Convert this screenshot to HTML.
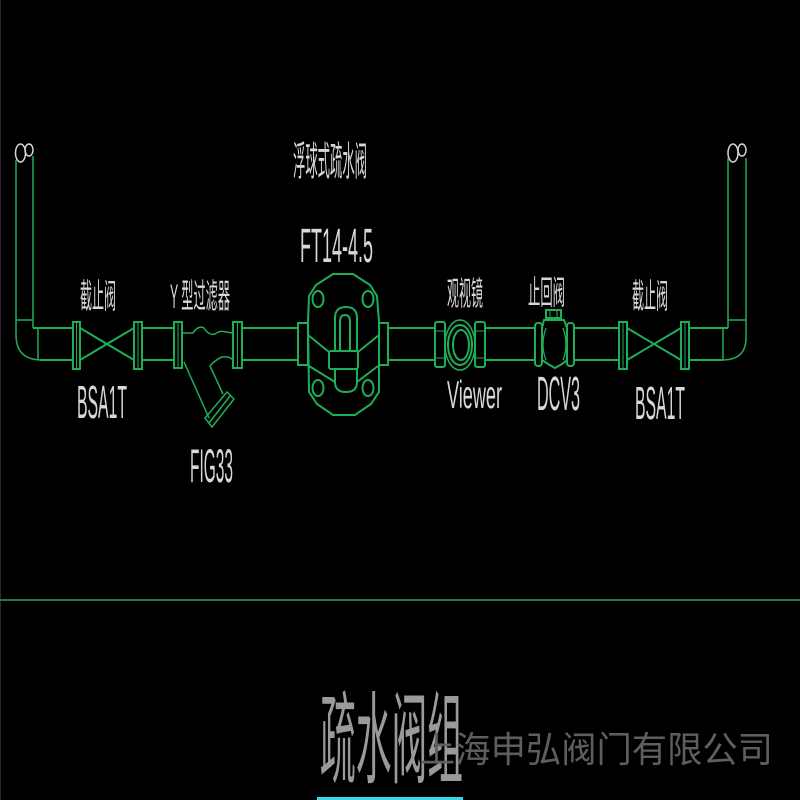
<!DOCTYPE html>
<html><head><meta charset="utf-8"><style>
html,body{margin:0;padding:0;background:#000;}
svg{display:block;}
.p{stroke:#1fae58;stroke-width:2;fill:none;}
.d{stroke:#1fae58;stroke-width:1.5;fill:none;}
.t{fill:#d8d8d8;font-family:"Liberation Sans","Noto Sans CJK SC",sans-serif;}
.c{fill:#d8d8d8;font-family:"Liberation Sans","Noto Sans CJK SC",sans-serif;}
</style></head><body>
<svg width="800" height="800" viewBox="0 0 800 800" xmlns="http://www.w3.org/2000/svg">
<rect width="800" height="800" fill="#000"/>
<line x1="0.5" y1="0" x2="0.5" y2="800" stroke="#2a2a2a" stroke-width="1"/>

<!-- left loop & vertical pipe -->
<ellipse cx="20.5" cy="153" rx="5" ry="9" fill="none" stroke="#d8d8d8" stroke-width="1.5"/>
<ellipse cx="29" cy="150" rx="4" ry="6" fill="none" stroke="#d8d8d8" stroke-width="1.5"/>
<path class="d" d="M16,160 L16,335 Q16,360 42,360"/>
<path class="d" d="M33,156 L33,328"/>
<line class="d" x1="16" y1="320" x2="33" y2="320"/>
<line class="d" x1="38" y1="328" x2="38" y2="360"/>

<!-- right loop & vertical pipe -->
<ellipse cx="733" cy="153" rx="5" ry="9" fill="none" stroke="#d8d8d8" stroke-width="1.5"/>
<ellipse cx="742" cy="150" rx="4" ry="6" fill="none" stroke="#d8d8d8" stroke-width="1.5"/>
<path class="d" d="M746,158 L746,338 Q746,360 722,360"/>
<path class="d" d="M728,158 L728,328"/>
<line class="d" x1="728" y1="320" x2="746" y2="320"/>
<line class="d" x1="723" y1="328" x2="723" y2="360"/>

<!-- pipe segments -->
<g class="p">
<line x1="33" y1="328" x2="73" y2="328"/><line x1="40" y1="360" x2="73" y2="360"/>
<line x1="142" y1="328" x2="174" y2="328"/><line x1="142" y1="360" x2="174" y2="360"/>
<line x1="242" y1="328" x2="298" y2="328"/><line x1="242" y1="360" x2="298" y2="360"/>
<line x1="387" y1="328" x2="435" y2="328"/><line x1="387" y1="360" x2="435" y2="360"/>
<line x1="485" y1="328" x2="535" y2="328"/><line x1="485" y1="360" x2="535" y2="360"/>
<line x1="574" y1="328" x2="619" y2="328"/><line x1="574" y1="360" x2="619" y2="360"/>
<line x1="689" y1="328" x2="728" y2="328"/><line x1="689" y1="360" x2="722" y2="360"/>
</g>

<!-- left gate valve -->
<g class="p">
<rect x="73" y="322" width="7" height="47"/><line x1="76.5" y1="322" x2="76.5" y2="369" stroke-width="1"/>
<rect x="134" y="322" width="8" height="47"/><line x1="138" y1="322" x2="138" y2="369" stroke-width="1"/>
<line x1="80" y1="328" x2="134" y2="360"/><line x1="80" y1="360" x2="134" y2="328"/>
</g>

<!-- right gate valve -->
<g class="p">
<rect x="619" y="322" width="8" height="47"/><line x1="623" y1="322" x2="623" y2="369" stroke-width="1"/>
<rect x="681" y="322" width="8" height="47"/><line x1="685" y1="322" x2="685" y2="369" stroke-width="1"/>
<line x1="627" y1="328" x2="681" y2="360"/><line x1="627" y1="360" x2="681" y2="328"/>
</g>

<!-- Y strainer -->
<g class="p">
<rect x="174" y="322" width="8" height="46"/><line x1="178" y1="322" x2="178" y2="368" stroke-width="1"/>
<rect x="233" y="322" width="9" height="46"/><line x1="237.5" y1="322" x2="237.5" y2="368" stroke-width="1"/>
</g>
<g class="d">
<path d="M182,333 L193,333 Q198,325 204,328 Q209,336 215,334 Q220,330 226,332 L233,333"/>
<path d="M233,360 Q229,356 222,357 Q215,360 210,366 L223,394"/>
<path d="M184,362 L209,418"/>
<path d="M205,418 L227,392 L234,399 L212,427 Z"/>
<line x1="209" y1="423" x2="230" y2="396"/>
</g>

<!-- float trap FT14-4.5 -->
<g class="p">
<rect x="298" y="323" width="10" height="42"/>
<rect x="379" y="323" width="9" height="42"/>
<path d="M333,274 L353,274 L370,285 L377,296 L379,322 L379,392 L371,404 L355,415 L333,415 L317,404 L309,392 L308,322 L309,296 L316,285 Z"/>
<ellipse cx="318" cy="299" rx="5.5" ry="8"/>
<ellipse cx="368" cy="299" rx="5.5" ry="8"/>
<ellipse cx="318" cy="388" rx="5.5" ry="8"/>
<ellipse cx="368" cy="388" rx="5.5" ry="8"/>
<path d="M335,351 L335,318 Q335,307 346,307 Q357,307 357,318 L357,351"/>
<path d="M340,351 L340,322 Q340,315 345,315 Q350,315 350,322 L350,351"/>
<path d="M335,369 L335,382 Q335,392 346,392 Q357,392 357,382 L357,369"/>
<rect x="329" y="351" width="29" height="18" rx="2"/>
<path d="M308,335 L329,352"/><path d="M309,366 L335,382"/>
<path d="M379,335 L358,352"/><path d="M378,366 L357,382"/>
</g>

<!-- sight glass -->
<g class="p">
<rect x="435" y="322" width="10" height="45" rx="2"/>
<line x1="435" y1="331" x2="445" y2="331" stroke-width="1"/><line x1="435" y1="358" x2="445" y2="358" stroke-width="1"/>
<rect x="475" y="322" width="10" height="45" rx="2"/>
<line x1="475" y1="331" x2="485" y2="331" stroke-width="1"/><line x1="475" y1="358" x2="485" y2="358" stroke-width="1"/>
<ellipse cx="460" cy="345" rx="15" ry="25" stroke-width="1.5"/>
<ellipse cx="460" cy="345" rx="12" ry="20"/>
<ellipse cx="461" cy="345" rx="8" ry="15"/>
</g>

<!-- check valve -->
<g class="p">
<rect x="535" y="323" width="7" height="43" rx="3"/>
<rect x="567" y="323" width="7" height="43" rx="3"/>
<rect x="546" y="310" width="15" height="8"/>
<line x1="550" y1="310" x2="550" y2="318" stroke-width="1"/><line x1="557" y1="310" x2="557" y2="318" stroke-width="1"/>
<path d="M542,328 L544,320 L564,320 L567,328"/>
<path d="M542,360 L548,364 L555,368 L562,364 L567,360"/>
<path d="M546,328 Q540,345 546,360" stroke-width="1.3"/>
<path d="M563,328 Q569,345 563,360" stroke-width="1.3"/>
</g>

<!-- separator -->
<rect x="0" y="599" width="800" height="2" fill="#23784a"/>

<!-- labels -->
<g class="c">
<text x="80" y="308" font-size="34" textLength="36" lengthAdjust="spacingAndGlyphs">截止阀</text>
<text x="170" y="308" font-size="34" textLength="60" lengthAdjust="spacingAndGlyphs">Y 型过滤器</text>
<text x="293" y="175" font-size="40" textLength="74" lengthAdjust="spacingAndGlyphs">浮球式疏水阀</text>
<text x="447" y="305" font-size="33" textLength="36" lengthAdjust="spacingAndGlyphs">观视镜</text>
<text x="528" y="304" font-size="33" textLength="37" lengthAdjust="spacingAndGlyphs">止回阀</text>
<text x="632" y="308" font-size="34" textLength="36" lengthAdjust="spacingAndGlyphs">截止阀</text>
</g>
<g class="t">
<text x="77" y="418" font-size="46" textLength="50" lengthAdjust="spacingAndGlyphs">BSA1T</text>
<text x="635" y="419" font-size="46" textLength="50" lengthAdjust="spacingAndGlyphs">BSA1T</text>
<text x="190" y="482" font-size="47" textLength="43" lengthAdjust="spacingAndGlyphs">FIG33</text>
<text x="300" y="262" font-size="48" textLength="73" lengthAdjust="spacingAndGlyphs">FT14-4.5</text>
<text x="447" y="408" font-size="39" textLength="55" lengthAdjust="spacingAndGlyphs">Viewer</text>
<text x="537" y="410" font-size="48" textLength="43" lengthAdjust="spacingAndGlyphs">DCV3</text>
</g>

<!-- title -->
<text x="320" y="775" font-size="100" textLength="143" lengthAdjust="spacingAndGlyphs" fill="#9a9a9a" font-family="Liberation Sans, Noto Sans CJK SC, sans-serif">疏水阀组</text>
<text x="420" y="762" font-size="36" textLength="353" lengthAdjust="spacingAndGlyphs" fill="#5e5e5e" font-family="Liberation Sans, Noto Sans CJK SC, sans-serif">上海申弘阀门有限公司</text>
<rect x="317" y="797" width="146" height="3" fill="#3cd6e6"/>
</svg>
</body></html>
